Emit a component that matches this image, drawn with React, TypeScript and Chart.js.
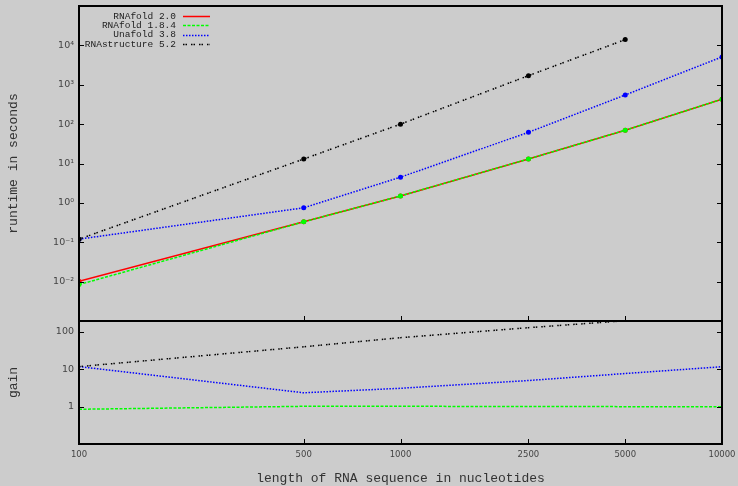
import { useEffect, useRef } from "react";
import { Chart, registerables } from "chart.js";

Chart.register(...registerables);

// Sequence lengths (nucleotides) used on the shared x axis
const lengths = [100, 500, 1000, 2500, 5000, 10000];

// Runtime in seconds per tool
const runtimeRnafold20 = [0.0102, 0.33, 1.5, 13, 70, 430];
const runtimeRnafold184 = [0.0084, 0.33, 1.5, 13, 70, 430];
const runtimeUnafold38 = [0.12, 0.75, 4.5, 62, 550, 5100];
const runtimeRnastructure52 = [0.12, 13, 100, 1700, 14000, null];

// Gain relative to RNAfold 2.0
const gainRnafold184 = [0.85, 1.02, 1.02, 1.01, 1.0, 1.0];
const gainUnafold38 = [11.8, 2.35, 3.1, 5.0, 7.7, 11.7];
const gainRnastructure52 = [11.8, 40, 70, 130, 199, null];

// Axis ticks
const xTicks = [100, 500, 1000, 2500, 5000, 10000];
const runtimeTicks = [1e-2, 1e-1, 1, 10, 100, 1000, 10000];
const gainTicks = [1, 10, 100];

const seriesNames = ["RNAfold 2.0", "RNAfold 1.8.4", "Unafold 3.8", "RNAstructure 5.2"];
const seriesColors = ["#ff0000", "#00ff00", "#0000ff", "#000000"];
const seriesDashes: number[][] = [[], [3, 1.5], [1.5, 1.5], [1.5, 1, 1.5, 4]];

const PAGE_W = 738;
const PAGE_H = 486;
const AXIS_W = 79;
const RIGHT_PAD = 16;
const BG = "#cccccc";
const TICK_FONT = { family: "'DejaVu Sans', sans-serif", size: 8.5 };
const TITLE_FONT = { family: "'Liberation Mono', monospace", size: 13, lineHeight: 1.2 };

const SUP: Record<string, string> = {
  "-": "\u207b", "0": "\u2070", "1": "\u00b9", "2": "\u00b2", "3": "\u00b3",
  "4": "\u2074", "5": "\u2075", "6": "\u2076", "7": "\u2077", "8": "\u2078", "9": "\u2079",
};
const powerLabel = (v: number) =>
  "10" + String(Math.round(Math.log10(v))).split("").map((c) => SUP[c]).join("");

// Frame with inward tick marks on all sides that carry ticks
const makeFramePlugin = (yTicks: number[]) => ({
  id: "frame",
  afterDraw(chart: any) {
    const { ctx, chartArea, scales } = chart;
    const { left, right, top, bottom } = chartArea;
    ctx.save();
    ctx.strokeStyle = "#000";
    ctx.lineWidth = 1;
    ctx.beginPath();
    yTicks.forEach((v) => {
      const y = Math.round(scales.y.getPixelForValue(v)) + 0.5;
      ctx.moveTo(left, y);
      ctx.lineTo(left + 5, y);
      ctx.moveTo(right, y);
      ctx.lineTo(right - 5, y);
    });
    xTicks.forEach((v) => {
      const x = Math.round(scales.x.getPixelForValue(v)) + 0.5;
      ctx.moveTo(x, bottom);
      ctx.lineTo(x, bottom - 5);
    });
    ctx.stroke();
    ctx.lineWidth = 2;
    ctx.strokeRect(left, top, right - left, bottom - top);
    ctx.restore();
  },
});

// Key in the upper-left corner: right-aligned names followed by line samples
const legendPlugin = {
  id: "keyBox",
  afterDraw(chart: any) {
    const { ctx } = chart;
    ctx.save();
    ctx.font = "9.5px 'Liberation Mono', monospace";
    ctx.textAlign = "right";
    ctx.textBaseline = "middle";
    chart.data.datasets.forEach((ds: any, i: number) => {
      const y = 16 + i * 9.4;
      ctx.fillStyle = "#222";
      ctx.fillText(ds.label, 176, y);
      ctx.strokeStyle = ds.borderColor;
      ctx.lineWidth = 1.5;
      ctx.setLineDash(ds.borderDash || []);
      ctx.beginPath();
      ctx.moveTo(183, Math.round(y) + 0.5);
      ctx.lineTo(210, Math.round(y) + 0.5);
      ctx.stroke();
    });
    ctx.restore();
  },
};

const lineDataset = (i: number, data: (number | null)[], withPoints: boolean) => ({
  label: seriesNames[i],
  data,
  borderColor: seriesColors[i],
  backgroundColor: seriesColors[i],
  borderDash: seriesDashes[i],
  borderWidth: 1.5,
  pointRadius: withPoints ? 2.5 : 0,
  pointBorderWidth: 0,
  pointBackgroundColor: seriesColors[i],
  tension: 0,
  spanGaps: false,
  order: 3 - i,
});

const fixedTicks = (values: number[]) => (axis: any) => {
  axis.ticks = values.map((v) => ({ value: v }));
};

// Fixed axis sizes without label overhang padding
const fitY = (s: any) => {
  s.width = AXIS_W;
  s.paddingTop = 0;
  s.paddingBottom = 0;
};
const fitX = (height: number) => (s: any) => {
  s.height = height;
  s.paddingLeft = 0;
  s.paddingRight = 0;
};

export default function App() {
  const topRef = useRef<HTMLCanvasElement>(null);
  const bottomRef = useRef<HTMLCanvasElement>(null);

  useEffect(() => {
    document.body.style.margin = "0";
    document.body.style.background = BG;

    const topChart = new Chart(topRef.current!, {
      type: "line",
      data: {
        labels: lengths,
        datasets: [
          lineDataset(0, runtimeRnafold20, true),
          lineDataset(1, runtimeRnafold184, true),
          lineDataset(2, runtimeUnafold38, true),
          lineDataset(3, runtimeRnastructure52, true),
        ],
      },
      options: {
        responsive: false,
        animation: false,
        layout: { padding: { top: 6, right: RIGHT_PAD, bottom: 9, left: 0 } },
        plugins: { legend: { display: false }, tooltip: { enabled: false } },
        scales: {
          x: {
            type: "logarithmic",
            min: 100,
            max: 10000,
            display: false,
          },
          y: {
            type: "logarithmic",
            min: 1e-3,
            max: 1e5,
            afterBuildTicks: fixedTicks(runtimeTicks),
            afterFit: fitY,
            grid: { display: false, drawTicks: false },
            border: { display: false },
            ticks: {
              color: "#444",
              font: { ...TICK_FONT, size: 9.5 },
              padding: 5,
              callback: (v: any) => powerLabel(Number(v)),
            },
            title: {
              display: true,
              text: "runtime in seconds",
              color: "#333",
              font: TITLE_FONT,
              padding: { top: 6, bottom: 0 },
            },
          },
        },
      },
      plugins: [makeFramePlugin(runtimeTicks), legendPlugin],
    } as any);

    const bottomChart = new Chart(bottomRef.current!, {
      type: "line",
      data: {
        labels: lengths,
        datasets: [
          lineDataset(1, gainRnafold184, false),
          lineDataset(2, gainUnafold38, false),
          lineDataset(3, gainRnastructure52, false),
        ],
      },
      options: {
        responsive: false,
        animation: false,
        layout: { padding: { top: 21, right: RIGHT_PAD, bottom: 0, left: 0 } },
        plugins: { legend: { display: false }, tooltip: { enabled: false } },
        scales: {
          x: {
            type: "logarithmic",
            min: 100,
            max: 10000,
            afterBuildTicks: fixedTicks(xTicks),
            afterFit: fitX(42),
            grid: { display: false, drawTicks: false },
            border: { display: false },
            ticks: {
              color: "#444",
              font: TICK_FONT,
              padding: 6,
              autoSkip: false,
              maxRotation: 0,
              callback: (v: any) => String(v),
            },
            title: {
              display: true,
              text: "length of RNA sequence in nucleotides",
              color: "#333",
              font: TITLE_FONT,
              padding: { top: 0, bottom: 0 },
            },
          },
          y: {
            type: "logarithmic",
            min: 0.1,
            max: 196,
            afterBuildTicks: fixedTicks(gainTicks),
            afterFit: fitY,
            grid: { display: false, drawTicks: false },
            border: { display: false },
            ticks: {
              color: "#444",
              font: { ...TICK_FONT, size: 9.5 },
              padding: 5,
              callback: (v: any) => String(v),
            },
            title: {
              display: true,
              text: "gain",
              color: "#333",
              font: TITLE_FONT,
              padding: { top: 6, bottom: 0 },
            },
          },
        },
      },
      plugins: [makeFramePlugin(gainTicks)],
    } as any);

    return () => {
      topChart.destroy();
      bottomChart.destroy();
    };
  }, []);

  return (
    <div
      style={{
        position: "fixed",
        left: 0,
        top: 0,
        width: PAGE_W,
        height: PAGE_H,
        background: BG,
        overflow: "hidden",
      }}
    >
      <canvas
        ref={topRef}
        width={PAGE_W}
        height={330}
        style={{ position: "absolute", left: 0, top: 0, width: PAGE_W, height: 330 }}
      />
      <canvas
        ref={bottomRef}
        width={PAGE_W}
        height={186}
        style={{ position: "absolute", left: 0, top: 300, width: PAGE_W, height: 186 }}
      />
    </div>
  );
}
